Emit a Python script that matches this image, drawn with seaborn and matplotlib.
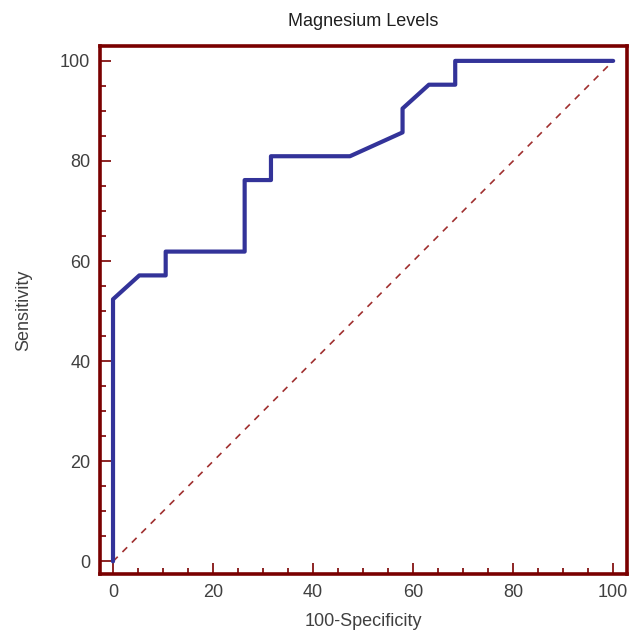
import numpy as np
import pandas as pd
import seaborn as sns
import matplotlib
matplotlib.use("Agg")
from matplotlib import pyplot as plt
from matplotlib.ticker import MultipleLocator

# ROC curve points
fpr = [0, 0, 5.26, 10.53, 10.53, 26.32, 26.32, 31.58, 31.58, 47.37, 57.89, 57.89, 63.16, 68.42, 68.42, 100]
tpr = [0, 52.38, 57.14, 57.14, 61.90, 61.90, 76.19, 76.19, 80.95, 80.95, 85.71, 90.48, 95.24, 95.24, 100, 100]
diag = [0, 100]

sns.set_style("white")
plt.rcParams['font.family'] = ['Liberation Sans', 'DejaVu Sans']

frame = "#7a0000"
df = pd.DataFrame({"x": fpr, "y": tpr})

fig = plt.figure(figsize=(6.33, 6.37), dpi=100)
ax = fig.add_axes([0.158, 0.099, 0.832, 0.829])

ax.plot(diag, diag, color="#a03030", lw=1.2, ls=(0, (4, 4)))
sns.lineplot(data=df, x="x", y="y", sort=False, estimator=None, color="#333399", lw=3, ax=ax)

ax.set_xlim(-2.6, 102.7)
ax.set_ylim(-2.5, 103)
ax.xaxis.set_major_locator(MultipleLocator(20))
ax.yaxis.set_major_locator(MultipleLocator(20))
ax.xaxis.set_minor_locator(MultipleLocator(5))
ax.yaxis.set_minor_locator(MultipleLocator(5))
ax.tick_params(which="major", direction="in", length=8, width=1.2, color=frame, labelsize=13, labelcolor="#404040", pad=7)
ax.tick_params(which="minor", direction="in", length=4, width=1.2, color=frame)
ax.tick_params(bottom=True, left=True, which="both")

for s in ax.spines.values():
    s.set_color(frame)
    s.set_linewidth(2.6)

ax.set_xlabel("100-Specificity", fontsize=13, color="#404040", labelpad=9)
ax.set_ylabel("Sensitivity", fontsize=13, color="#404040", labelpad=20)
ax.set_title("Magnesium Levels", fontsize=13, color="#202020", pad=14)

plt.savefig("out.png", dpi=100)
